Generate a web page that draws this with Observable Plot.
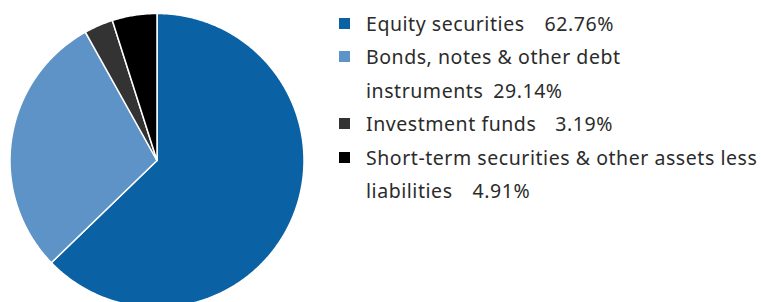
<!DOCTYPE html>
<html><head>
<meta charset="utf-8">
<script src="https://cdn.jsdelivr.net/npm/d3@7"></script>
<script src="https://cdn.jsdelivr.net/npm/@observablehq/plot@0.6"></script>
<style>
body{margin:0;background:#fff;font-family:"Noto Sans",Lato,sans-serif;}
#wrap{position:relative;width:761px;height:302px;overflow:hidden;}
#chart{position:absolute;left:0;top:0;}
#legend{position:absolute;left:339px;top:6.5px;color:#2b2b2b;font-size:19.5px;letter-spacing:0.55px;line-height:33.6px;white-space:nowrap;}
.item{position:relative;padding-left:27px;}
.sw{position:absolute;left:0;top:11px;width:11px;height:11px;}
</style></head>
<body><div id="wrap"><div id="chart"></div><div id="legend"></div></div>
<script>
const categories = ["Equity securities", "Bonds, notes & other debt instruments", "Investment funds", "Short-term securities & other assets less liabilities"];
const legendLines = [["Equity securities"], ["Bonds, notes & other debt", "instruments"], ["Investment funds"], ["Short-term securities & other assets less", "liabilities"]];
const percents = [62.76, 29.14, 3.19, 4.91];
const percentLabels = ["62.76%", "29.14%", "3.19%", "4.91%"];
const colors = ["#0a61a4", "#5d93c6", "#333333", "#000000"];

const data = categories.map((name, i) => ({name, value: percents[i]}));
const arcs = d3.pie().sort(null).value(d => d.value)(data);
const pts = [];
for (const s of arcs) {
  const name = s.data.name;
  pts.push({name, x: 0, y: 0});
  const n = Math.max(2, Math.ceil((s.endAngle - s.startAngle) / (Math.PI / 360)));
  for (let i = 0; i <= n; i++) {
    const a = s.startAngle + (s.endAngle - s.startAngle) * i / n;
    pts.push({name, x: Math.sin(a), y: Math.cos(a)});
  }
}

const chart = Plot.plot({
  width: 320, height: 302,
  marginLeft: 9.5, marginRight: 16.5, marginTop: 13, marginBottom: -5,
  x: {domain: [-1, 1], axis: null},
  y: {domain: [-1, 1], axis: null},
  color: {domain: categories, range: colors},
  marks: [
    Plot.line(pts, {x: "x", y: "y", z: "name", fill: "name", stroke: "white", strokeWidth: 1.5, curve: "linear-closed"})
  ]
});
document.getElementById("chart").appendChild(chart);

const gaps = [20, 10, 19, 20];
const legend = document.getElementById("legend");
categories.forEach((c, i) => {
  const item = document.createElement("div");
  item.className = "item";
  const sw = document.createElement("div");
  sw.className = "sw";
  sw.style.background = colors[i];
  item.appendChild(sw);
  const lines = legendLines[i];
  lines.forEach((ln, j) => {
    const div = document.createElement("div");
    div.textContent = ln;
    if (j === lines.length - 1) {
      const p = document.createElement("span");
      p.style.marginLeft = gaps[i] + "px";
      p.textContent = percentLabels[i];
      div.appendChild(p);
    }
    item.appendChild(div);
  });
  legend.appendChild(item);
});
</script>
</body></html>
